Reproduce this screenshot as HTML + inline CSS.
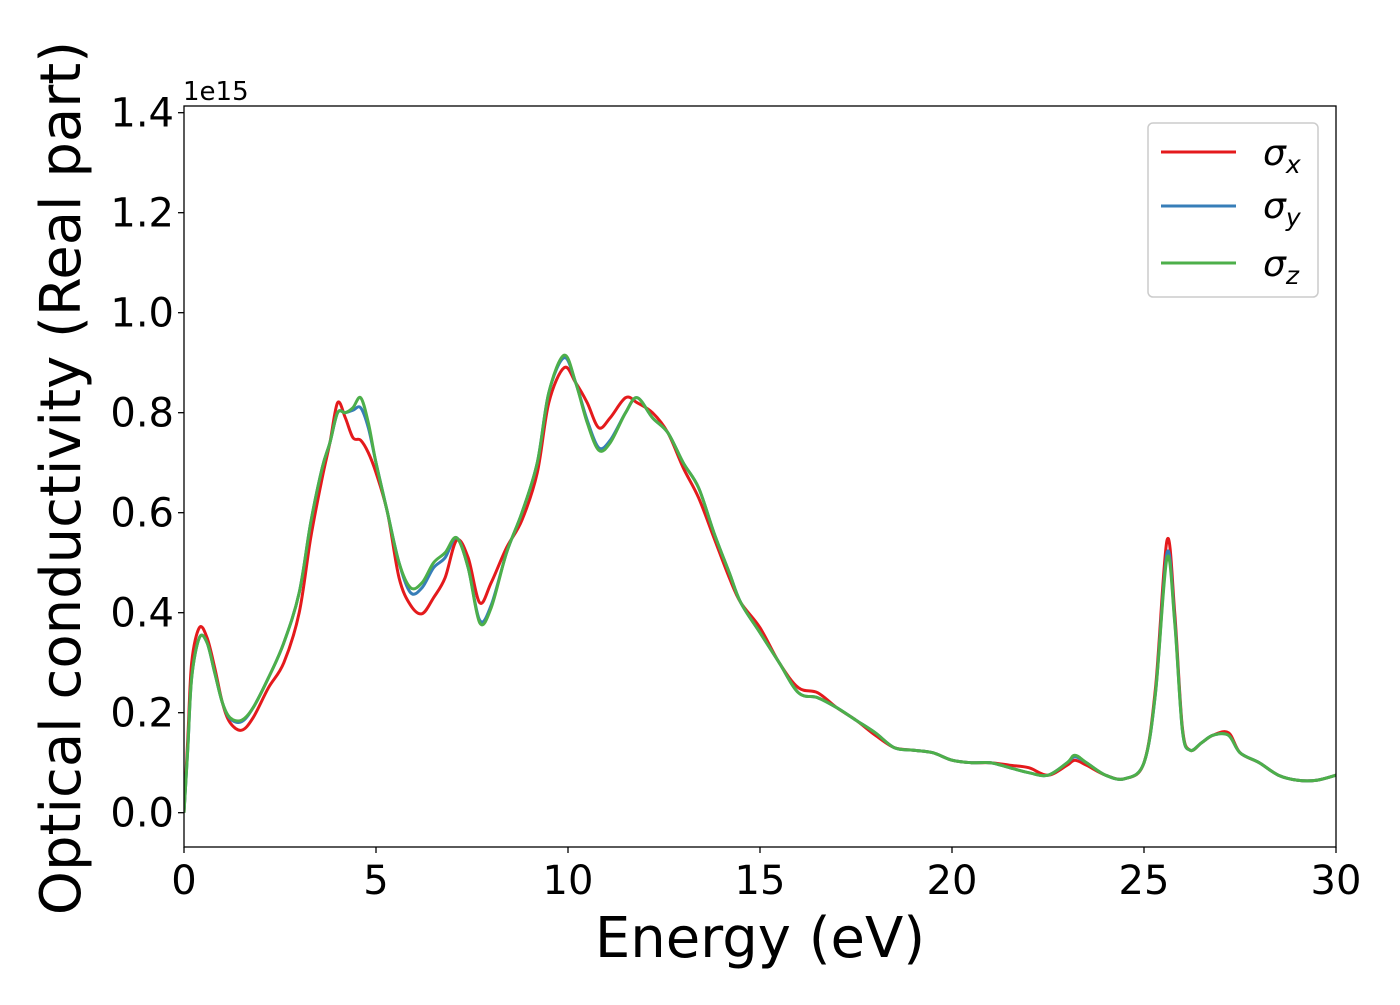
<!DOCTYPE html>
<html><head><meta charset="utf-8"><style>
body{margin:0;background:#fff;}
svg text{font-family:"DejaVu Sans","Liberation Sans",sans-serif;fill:#000;}
</style></head><body>
<svg id="chart" width="1400" height="1000" xmlns="http://www.w3.org/2000/svg">
<rect width="1400" height="1000" fill="#fff"/>
<g id="series"></g>
<g id="axes"></g>
<g>
<rect x="1148" y="123" width="170" height="174" rx="5" fill="#fff" fill-opacity="0.8" stroke="#ccc" stroke-width="1.5"/>
<line x1="1161" y1="152" x2="1236" y2="152" stroke="#e41a1c" stroke-width="3"/>
<text x="1263" y="165" font-size="36" font-style="italic">σ<tspan font-size="25" dy="8">x</tspan></text>
<line x1="1161" y1="206" x2="1236" y2="206" stroke="#377eb8" stroke-width="3"/>
<text x="1263" y="218" font-size="36" font-style="italic">σ<tspan font-size="25" dy="8">y</tspan></text>
<line x1="1161" y1="263" x2="1236" y2="263" stroke="#4daf4a" stroke-width="3"/>
<text x="1263" y="276" font-size="36" font-style="italic">σ<tspan font-size="25" dy="8">z</tspan></text>
</g>
<text x="183" y="100" font-size="26">1e15</text>
<text x="760" y="957" font-size="56" text-anchor="middle">Energy (eV)</text>
<text transform="translate(80,478) rotate(-90)" font-size="56" text-anchor="middle">Optical conductivity (Real part)</text>
</svg>
<script>
const energies=[0,0.1,0.2,0.4,0.6,0.8,1.0,1.2,1.5,1.8,2.2,2.6,3.0,3.3,3.6,3.8,4.0,4.2,4.4,4.6,4.8,5.0,5.3,5.6,5.9,6.2,6.5,6.8,7.1,7.4,7.7,8.0,8.4,8.8,9.2,9.5,9.9,10.2,10.5,10.8,11.1,11.5,11.8,12.2,12.6,13.0,13.4,13.8,14.2,14.5,15.0,15.5,16.0,16.5,17.0,17.5,18.0,18.5,19.0,19.5,20,20.5,21,21.5,22,22.5,23,23.2,23.5,24,24.5,25,25.3,25.6,25.8,26.0,26.2,26.5,26.8,27.2,27.5,28,28.5,29,29.5,30];
const sigmaX=[0,0.15,0.3,0.37,0.35,0.29,0.22,0.18,0.165,0.19,0.25,0.3,0.4,0.55,0.67,0.74,0.82,0.79,0.75,0.745,0.72,0.68,0.6,0.47,0.415,0.398,0.43,0.47,0.545,0.51,0.42,0.46,0.53,0.585,0.68,0.82,0.89,0.86,0.82,0.77,0.79,0.83,0.82,0.8,0.76,0.69,0.63,0.55,0.47,0.42,0.37,0.3,0.25,0.24,0.21,0.185,0.155,0.13,0.125,0.12,0.105,0.1,0.1,0.095,0.09,0.075,0.095,0.105,0.095,0.075,0.068,0.1,0.25,0.545,0.4,0.17,0.125,0.14,0.155,0.16,0.12,0.1,0.075,0.065,0.065,0.075];
const sigmaY=[0,0.13,0.27,0.35,0.34,0.28,0.22,0.188,0.182,0.21,0.27,0.34,0.44,0.58,0.69,0.74,0.8,0.8,0.805,0.81,0.77,0.7,0.6,0.5,0.44,0.45,0.49,0.51,0.55,0.49,0.385,0.415,0.52,0.6,0.7,0.84,0.91,0.86,0.785,0.73,0.745,0.8,0.83,0.79,0.76,0.7,0.65,0.56,0.48,0.42,0.36,0.3,0.24,0.23,0.21,0.185,0.16,0.13,0.125,0.12,0.105,0.1,0.1,0.09,0.08,0.075,0.1,0.112,0.1,0.075,0.068,0.1,0.24,0.52,0.385,0.165,0.125,0.14,0.155,0.155,0.12,0.1,0.075,0.065,0.065,0.075];
const sigmaZ=[0,0.13,0.27,0.35,0.34,0.28,0.22,0.19,0.185,0.21,0.27,0.34,0.44,0.58,0.69,0.74,0.8,0.8,0.81,0.83,0.78,0.7,0.6,0.5,0.45,0.46,0.5,0.52,0.55,0.49,0.38,0.41,0.52,0.6,0.7,0.84,0.915,0.86,0.78,0.725,0.74,0.8,0.83,0.79,0.76,0.7,0.65,0.56,0.48,0.42,0.36,0.3,0.24,0.23,0.21,0.185,0.16,0.13,0.125,0.12,0.105,0.1,0.1,0.09,0.08,0.075,0.1,0.115,0.1,0.075,0.068,0.1,0.24,0.51,0.38,0.165,0.125,0.14,0.155,0.155,0.12,0.1,0.075,0.065,0.065,0.075];
const xTicks=[0,5,10,15,20,25,30];
const yTicks=[0.0,0.2,0.4,0.6,0.8,1.0,1.2,1.4];
const yTickLabels=["0.0","0.2","0.4","0.6","0.8","1.0","1.2","1.4"];

const L=184,R=1336,T=106,B=847;
const xMin=0,xMax=30,yMin=-0.0686,yMax=1.4134;
function sx(v){return L+(v-xMin)/(xMax-xMin)*(R-L);}
function sy(v){return B-(v-yMin)/(yMax-yMin)*(B-T);}
const NS="http://www.w3.org/2000/svg";
function mk(tag,attrs,parent){const e=document.createElementNS(NS,tag);for(const k in attrs)e.setAttribute(k,attrs[k]);parent.appendChild(e);return e;}
function smoothPath(xs,ys){
  const p=xs.map((x,i)=>[sx(x),sy(ys[i])]);
  let d="M"+p[0][0].toFixed(2)+","+p[0][1].toFixed(2);
  for(let i=0;i<p.length-1;i++){
    const p0=p[i-1]||p[i],p1=p[i],p2=p[i+1],p3=p[i+2]||p2;
    const c1=[p1[0]+(p2[0]-p0[0])/6,p1[1]+(p2[1]-p0[1])/6];
    const c2=[p2[0]-(p3[0]-p1[0])/6,p2[1]-(p3[1]-p1[1])/6];
    d+="C"+c1[0].toFixed(2)+","+c1[1].toFixed(2)+" "+c2[0].toFixed(2)+","+c2[1].toFixed(2)+" "+p2[0].toFixed(2)+","+p2[1].toFixed(2);
  }
  return d;
}
const sg=document.getElementById('series');
const defs=mk('defs',{},sg);
const cp=mk('clipPath',{id:'clip'},defs);
mk('rect',{x:L,y:T,width:R-L,height:B-T},cp);
const sets=[[sigmaX,'#e41a1c','line-sigma-x'],[sigmaY,'#377eb8','line-sigma-y'],[sigmaZ,'#4daf4a','line-sigma-z']];
sets.forEach(s=>{
  const pth=mk('path',{d:smoothPath(energies,s[0]),fill:'none',stroke:s[1],'stroke-width':3,'clip-path':'url(#clip)','stroke-linejoin':'round'},sg);
  
  
});
const ax=document.getElementById('axes');
const frame=mk('rect',{x:L,y:T,width:R-L,height:B-T,fill:'none',stroke:'#000','stroke-width':1.3},ax);


xTicks.forEach(v=>{
  const x=sx(v);
  const t=mk('line',{x1:x,y1:B,x2:x,y2:B+6,stroke:'#000','stroke-width':1.3},ax);
  
  
  const tx=mk('text',{x:x,y:B+47,'font-size':40,'text-anchor':'middle'},ax);
  tx.textContent=String(v);
  
  
});
yTicks.forEach((v,i)=>{
  const y=sy(v);
  const t=mk('line',{x1:L-6,y1:y,x2:L,y2:y,stroke:'#000','stroke-width':1.3},ax);
  
  
  const tx=mk('text',{x:L-10,y:y+14,'font-size':40,'text-anchor':'end'},ax);
  tx.textContent=yTickLabels[i];
  
  
});
</script>
</body></html>
